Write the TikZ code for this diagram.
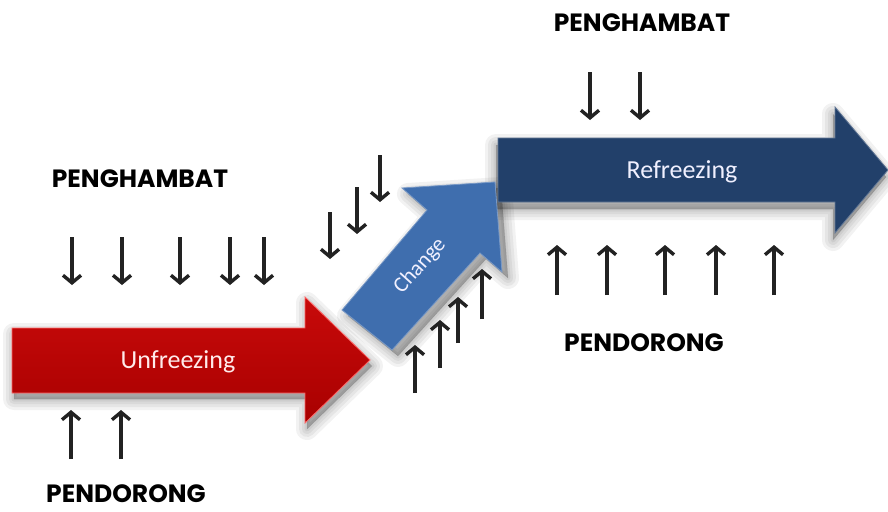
\documentclass[tikz,border=0pt]{standalone}
\usepackage{fontspec}
\setmainfont{Carlito}
\newfontfamily\headfont{Poppins}[UprightFont=* Bold]
\usetikzlibrary{arrows.meta}
\definecolor{redfill}{HTML}{C80A0A}
\definecolor{reddark}{HTML}{A80000}
\definecolor{bluefill}{HTML}{3F6EAE}
\definecolor{navyfill}{HTML}{22406A}
\definecolor{arrowink}{HTML}{222222}
\tikzset{
  force/.style={draw=arrowink, line width=3.4pt, -{Straight Barb[length=7.5pt,width=18pt]}},
  label/.style={font=\headfont\fontsize{25}{28}\selectfont, text=black, inner sep=0pt},
  stagetext/.style={font=\fontsize{26}{29}\selectfont, inner sep=0pt},
  softshadow/.style={fill=black, draw=black, opacity=0.05, line join=round},
}
\begin{document}
\begin{tikzpicture}[x=1pt,y=-1pt]
\useasboundingbox (0,0) rectangle (888,511);
\fill[white] (0,0) rectangle (888,511);

% ---------- shadows ----------
\foreach \w in {22,16,10,5,1}{
  \path[softshadow, line width=\w pt, shift={(2,6)}]
    (12,328) -- (305,328) -- (305,297) -- (370,360) -- (305,423) -- (305,393) -- (12,393) -- cycle;
  \path[softshadow, line width=\w pt, shift={(6,6)}]
    (342,310) -- (427,210) -- (402,188) -- (495,182) -- (502,272) -- (480,253) -- (392,350) -- cycle;
  \path[softshadow, line width=\w pt, shift={(-2,7)}]
    (498,138) -- (835,138) -- (835,107) -- (888,170) -- (835,233) -- (835,202) -- (498,202) -- cycle;
}

% ---------- stage arrows ----------
\path[top color=redfill, bottom color=reddark, draw=red!60!white, line width=0.8pt, line join=miter]
  (12,328) -- (305,328) -- (305,297) -- (370,360) -- (305,423) -- (305,393) -- (12,393) -- cycle;
\node[stagetext, text=red!8!white] (unfreeze) at (178,362) {Unfreezing};

\path[fill=bluefill, draw=bluefill!70!white, line width=0.8pt, line join=miter]
  (342,310) -- (427,210) -- (402,188) -- (495,182) -- (502,272) -- (480,253) -- (392,350) -- cycle;
\node[stagetext, font=\fontsize{22}{26}\selectfont, text=blue!6!white, rotate=48] (change) at (420,266) {Change};

\path[fill=navyfill, draw=navyfill!70!white, line width=0.8pt, line join=miter]
  (498,138) -- (835,138) -- (835,107) -- (888,170) -- (835,233) -- (835,202) -- (498,202) -- cycle;
\node[stagetext, text=blue!6!white] (refreeze) at (682,172) {Refreezing};

% ---------- labels ----------
\node[label] (pengL) at (140,179) {PENGHAMBAT};
\node[label] (pengT) at (642,23) {PENGHAMBAT};
\node[label] (pendR) at (644,343) {PENDORONG};
\node[label] (pendL) at (126,494) {PENDORONG};

% ---------- restraining forces (down) ----------
\foreach \x in {72,122,180,230,264}{
  \coordinate (ds\x) at (\x,237); \coordinate (de\x) at (\x,285);
  \draw[force] (ds\x) -- (de\x);
}
\foreach \x in {590,640}{
  \coordinate (ts\x) at (\x,72); \coordinate (te\x) at (\x,120);
  \draw[force] (ts\x) -- (te\x);
}
\coordinate (c1s) at (330,212); \coordinate (c1e) at (330,259);
\coordinate (c2s) at (357,187); \coordinate (c2e) at (357,234);
\coordinate (c3s) at (380,155); \coordinate (c3e) at (380,202);
\draw[force] (c1s) -- (c1e);
\draw[force] (c2s) -- (c2e);
\draw[force] (c3s) -- (c3e);

% ---------- driving forces (up) ----------
\foreach \x in {557,607,665,716,774}{
  \coordinate (us\x) at (\x,295); \coordinate (ue\x) at (\x,245);
  \draw[force] (us\x) -- (ue\x);
}
\foreach \x in {71,121}{
  \coordinate (ls\x) at (\x,459); \coordinate (le\x) at (\x,410);
  \draw[force] (ls\x) -- (le\x);
}
\coordinate (k1s) at (415,393); \coordinate (k1e) at (415,345);
\coordinate (k2s) at (440,368); \coordinate (k2e) at (440,320);
\coordinate (k3s) at (458,343); \coordinate (k3e) at (458,297);
\coordinate (k4s) at (482,319); \coordinate (k4e) at (482,269);
\draw[force] (k1s) -- (k1e);
\draw[force] (k2s) -- (k2e);
\draw[force] (k3s) -- (k3e);
\draw[force] (k4s) -- (k4e);
\end{tikzpicture}
\end{document}
